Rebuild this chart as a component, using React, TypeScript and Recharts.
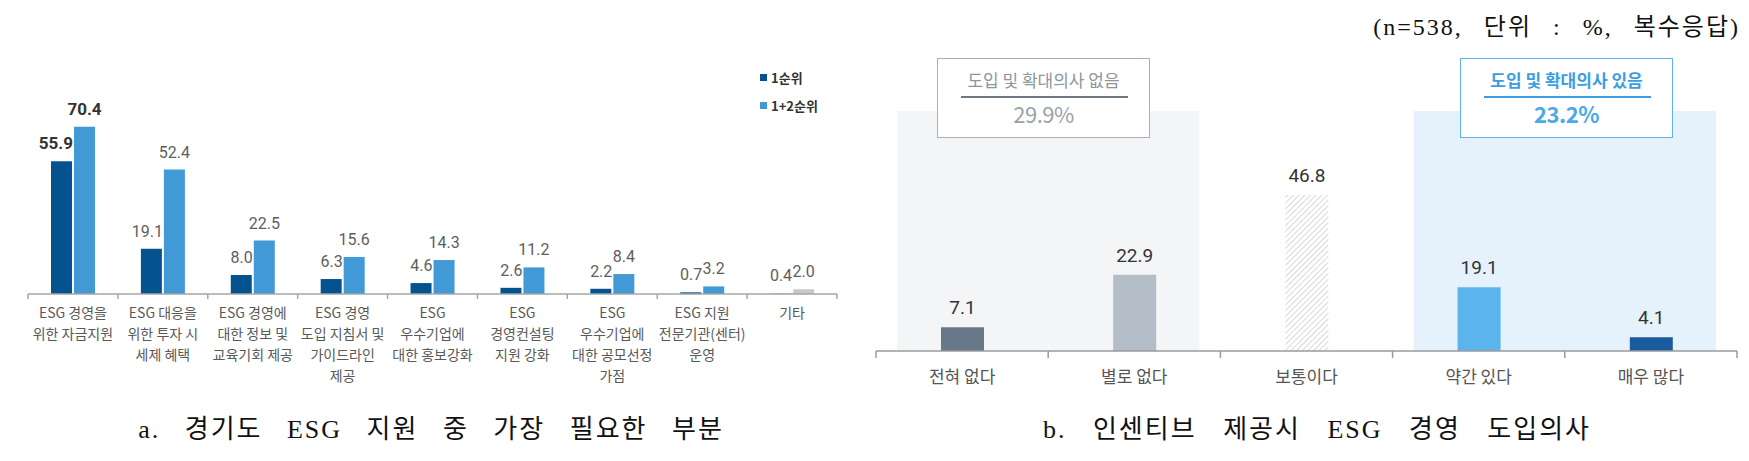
import React from 'react';
import { ComposedChart, Bar, XAxis, YAxis, Cell, LabelList, Legend, ReferenceArea } from 'recharts';

// a. 경기도 ESG 지원 중 가장 필요한 부분
const needCategories = [
  'ESG 경영을\n위한 자금지원',
  'ESG 대응을\n위한 투자 시\n세제 혜택',
  'ESG 경영에\n대한 정보 및\n교육기회 제공',
  'ESG 경영\n도입 지침서 및\n가이드라인\n제공',
  'ESG\n우수기업에\n대한 홍보강화',
  'ESG\n경영컨설팅\n지원 강화',
  'ESG\n우수기업에\n대한 공모선정\n가점',
  'ESG 지원\n전문기관(센터)\n운영',
  '기타',
];
const rank1 = [55.9, 19.1, 8.0, 6.3, 4.6, 2.6, 2.2, 0.7, 0.4];
const rank12 = [70.4, 52.4, 22.5, 15.6, 14.3, 11.2, 8.4, 3.2, 2.0];
const seriesNames = ['1순위', '1+2순위'];

// b. 인센티브 제공시 ESG 경영 도입의사
const intentCategories = ['전혀 없다', '별로 없다', '보통이다', '약간 있다', '매우 많다'];
const intentValues = [7.1, 22.9, 46.8, 19.1, 4.1];
const noIntentLabel = '도입 및 확대의사 없음';
const noIntentShare = '29.9%';
const yesIntentLabel = '도입 및 확대의사 있음';
const yesIntentShare = '23.2%';

const needData = needCategories.map((name, i) => ({ name, r1: rank1[i], r12: rank12[i] }));
const intentData = intentCategories.map((name, i) => ({ name, value: intentValues[i] }));

const DARK = '#04538F';
const LIGHT = '#4199D5';
const OTHER = '#C9C9C9';
const intentColors = ['#677889', '#B4BEC8', 'url(#hatch)', '#5CB4EC', '#1B5A9D'];

const SANS = "'Noto Sans CJK KR', 'Noto Sans', sans-serif";
const NUM = "Roboto, 'Noto Sans', sans-serif";
const SERIF = "'Liberation Serif', 'Noto Sans CJK KR', serif";

// chart a geometry
const A_W = 860;
const A_H = 461;
const A_MARGIN = { top: 104, right: 23, bottom: 0, left: 28 };
const A_BAND = (A_W - A_MARGIN.left - A_MARGIN.right) / needCategories.length;

// chart b geometry
const B_W = 889;
const B_H = 461;
const B_MARGIN = { top: 111, right: 12, bottom: 0, left: 16 };
const B_BAND = (B_W - B_MARGIN.left - B_MARGIN.right) / intentCategories.length;

function NeedTick(props: any) {
  const { x, y, payload, index } = props;
  const lines = String(payload.value).split('\n');
  const last = index === needCategories.length - 1;
  return (
    <g>
      <line x1={x - A_BAND / 2} x2={x - A_BAND / 2} y1={y} y2={y + 5} stroke="#A6A6A6" strokeWidth={1.5} />
      {last && <line x1={x + A_BAND / 2} x2={x + A_BAND / 2} y1={y} y2={y + 5} stroke="#A6A6A6" strokeWidth={1.5} />}
      <text x={x} y={y + 24} textAnchor="middle" fontSize={14} fill="#595959" fontFamily={SANS}>
        {lines.map((l, i) => (
          <tspan key={i} x={x} dy={i === 0 ? 0 : 21}>
            {l}
          </tspan>
        ))}
      </text>
    </g>
  );
}

function IntentTick(props: any) {
  const { x, y, payload, index } = props;
  const last = index === intentCategories.length - 1;
  return (
    <g>
      <line x1={x - B_BAND / 2} x2={x - B_BAND / 2} y1={y} y2={y + 7} stroke="#9A9A9A" strokeWidth={1.5} />
      {last && <line x1={x + B_BAND / 2} x2={x + B_BAND / 2} y1={y} y2={y + 7} stroke="#9A9A9A" strokeWidth={1.5} />}
      <text x={x} y={y + 32} textAnchor="middle" fontSize={17} fill="#555" fontFamily={SANS}>
        {payload.value}
      </text>
    </g>
  );
}

function DarkLabel(props: any) {
  const { x, y, width, value, index } = props;
  const first = index === 0;
  return (
    <text
      x={Number(x) + Number(width) + 1}
      y={Number(y) - 12}
      textAnchor="end"
      fontSize={first ? 17 : 16}
      fontWeight={first ? 700 : 400}
      fill={first ? '#333' : '#5E5E5E'}
      fontFamily={NUM}
    >
      {Number(value).toFixed(1)}
    </text>
  );
}

function LightLabel(props: any) {
  const { x, y, width, value, index } = props;
  const first = index === 0;
  return (
    <text
      x={Number(x) + Number(width) / 2}
      y={Number(y) - 12}
      textAnchor="middle"
      fontSize={first ? 17 : 16}
      fontWeight={first ? 700 : 400}
      fill={first ? '#333' : '#5E5E5E'}
      fontFamily={NUM}
    >
      {Number(value).toFixed(1)}
    </text>
  );
}

function NeedLegend(props: any) {
  const items = [...(props.payload || [])].sort(
    (a: any, b: any) => seriesNames.indexOf(a.value) - seriesNames.indexOf(b.value)
  );
  return (
    <div>
      {items.map((p: any, i: number) => (
        <div key={i} style={{ display: 'flex', alignItems: 'center', height: 28, fontFamily: SANS, fontSize: 13, fontWeight: 700, color: '#333' }}>
          <span style={{ width: 7, height: 7, background: p.color, marginRight: 4, display: 'inline-block' }} />
          {p.value}
        </div>
      ))}
    </div>
  );
}

function InsetArea(props: any) {
  const { x, y, width, height, fill } = props;
  return <rect x={x + 21} y={y} width={width - 42} height={height} fill={fill} />;
}

function IntentBox({ left, title, share, blue }: { left: number; title: string; share: string; blue: boolean }) {
  const c = blue ? '#3C9EE2' : '#8E969E';
  return (
    <div
      style={{
        position: 'absolute',
        left,
        top: 58,
        width: 213,
        height: 80,
        boxSizing: 'border-box',
        border: `1.5px solid ${blue ? '#5BB4EE' : '#A7B0B8'}`,
        background: '#fff',
        fontFamily: SANS,
      }}
    >
      <div style={{ position: 'absolute', left: 0, right: 0, top: 8, textAlign: 'center', fontSize: 17, lineHeight: '26px', color: c, fontWeight: blue ? 700 : 400 }}>
        {title}
      </div>
      <div style={{ position: 'absolute', left: 23, width: 167, top: 37, height: 1.5, background: blue ? '#3C9EE2' : '#6E7882' }} />
      <div style={{ position: 'absolute', left: 0, right: 0, top: 40, textAlign: 'center', fontSize: 22, lineHeight: '28px', color: blue ? '#4AA9E8' : '#9AA2AA', fontWeight: blue ? 700 : 400, letterSpacing: -0.5 }}>
        {share}
      </div>
    </div>
  );
}

export default function App() {
  return (
    <div style={{ position: 'relative', width: 1749, height: 461, background: '#fff', overflow: 'hidden' }}>
      <style>{`body{margin:0}`}</style>

      <div style={{ position: 'absolute', left: 0, top: 0 }}>
        <ComposedChart width={A_W} height={A_H} data={needData} margin={A_MARGIN} barGap={2}>
          <XAxis
            dataKey="name"
            interval={0}
            height={167}
            tickSize={0}
            tickMargin={0}
            tick={<NeedTick />}
            axisLine={{ stroke: '#A6A6A6', strokeWidth: 1.5 }}
            tickLine={false}
          />
          <YAxis hide domain={[0, 80]} />
          <Legend
            layout="vertical"
            align="center"
            verticalAlign="middle"
            wrapperStyle={{ top: 63, left: 760, width: 100 }}
            content={<NeedLegend />}
          />
          <Bar dataKey="r1" name={seriesNames[0]} fill={DARK} barSize={21} isAnimationActive={false}>
            {needData.map((_, i) => (
              <Cell key={i} fill={i === needData.length - 1 ? OTHER : DARK} />
            ))}
            <LabelList dataKey="r1" content={<DarkLabel />} />
          </Bar>
          <Bar dataKey="r12" name={seriesNames[1]} fill={LIGHT} barSize={21} isAnimationActive={false}>
            {needData.map((_, i) => (
              <Cell key={i} fill={i === needData.length - 1 ? OTHER : LIGHT} />
            ))}
            <LabelList dataKey="r12" content={<LightLabel />} />
          </Bar>
        </ComposedChart>
      </div>

      <div style={{ position: 'absolute', left: 860, top: 0 }}>
        <ComposedChart width={B_W} height={B_H} data={intentData} margin={B_MARGIN}>
          <defs>
            <pattern id="hatch" width={4} height={4} patternUnits="userSpaceOnUse" patternTransform="rotate(45)">
              <rect width={4} height={4} fill="#fff" />
              <line x1={0} y1={0} x2={0} y2={4} stroke="#C4C4C4" strokeWidth={1.3} />
            </pattern>
          </defs>
          <XAxis
            dataKey="name"
            interval={0}
            height={110}
            tickSize={0}
            tickMargin={0}
            tick={<IntentTick />}
            axisLine={{ stroke: '#9A9A9A', strokeWidth: 1.5 }}
            tickLine={false}
          />
          <YAxis hide domain={[0, 72]} />
          <ReferenceArea x1={intentCategories[0]} x2={intentCategories[1]} fill="#F3F5F7" fillOpacity={1} shape={<InsetArea />} />
          <ReferenceArea x1={intentCategories[3]} x2={intentCategories[4]} fill="#E5F2FC" fillOpacity={1} shape={<InsetArea />} />
          <Bar dataKey="value" barSize={43} isAnimationActive={false}>
            {intentData.map((_, i) => (
              <Cell key={i} fill={intentColors[i]} />
            ))}
            <LabelList dataKey="value" position="top" offset={13} fontSize={19} fill="#333" fontFamily={NUM} formatter={(v: any) => Number(v).toFixed(1)} />
          </Bar>
        </ComposedChart>
      </div>

      <IntentBox left={937} title={noIntentLabel} share={noIntentShare} blue={false} />
      <IntentBox left={1460} title={yesIntentLabel} share={yesIntentShare} blue={true} />

      <div style={{ position: 'absolute', right: 9, top: 10, fontFamily: SERIF, fontSize: 24, lineHeight: '34px', letterSpacing: 2, wordSpacing: 13, color: '#111', whiteSpace: 'nowrap' }}>
        (n=538, 단위 : %, 복수응답)
      </div>

      <div style={{ position: 'absolute', left: 0, width: 862, top: 413, textAlign: 'center', fontFamily: SERIF, fontSize: 26, lineHeight: '34px', letterSpacing: 2, wordSpacing: 16, color: '#111', whiteSpace: 'nowrap' }}>
        a. 경기도 ESG 지원 중 가장 필요한 부분
      </div>
      <div style={{ position: 'absolute', left: 1017, width: 600, top: 413, textAlign: 'center', fontFamily: SERIF, fontSize: 26, lineHeight: '34px', letterSpacing: 2, wordSpacing: 18, color: '#111', whiteSpace: 'nowrap' }}>
        b. 인센티브 제공시 ESG 경영 도입의사
      </div>
    </div>
  );
}
